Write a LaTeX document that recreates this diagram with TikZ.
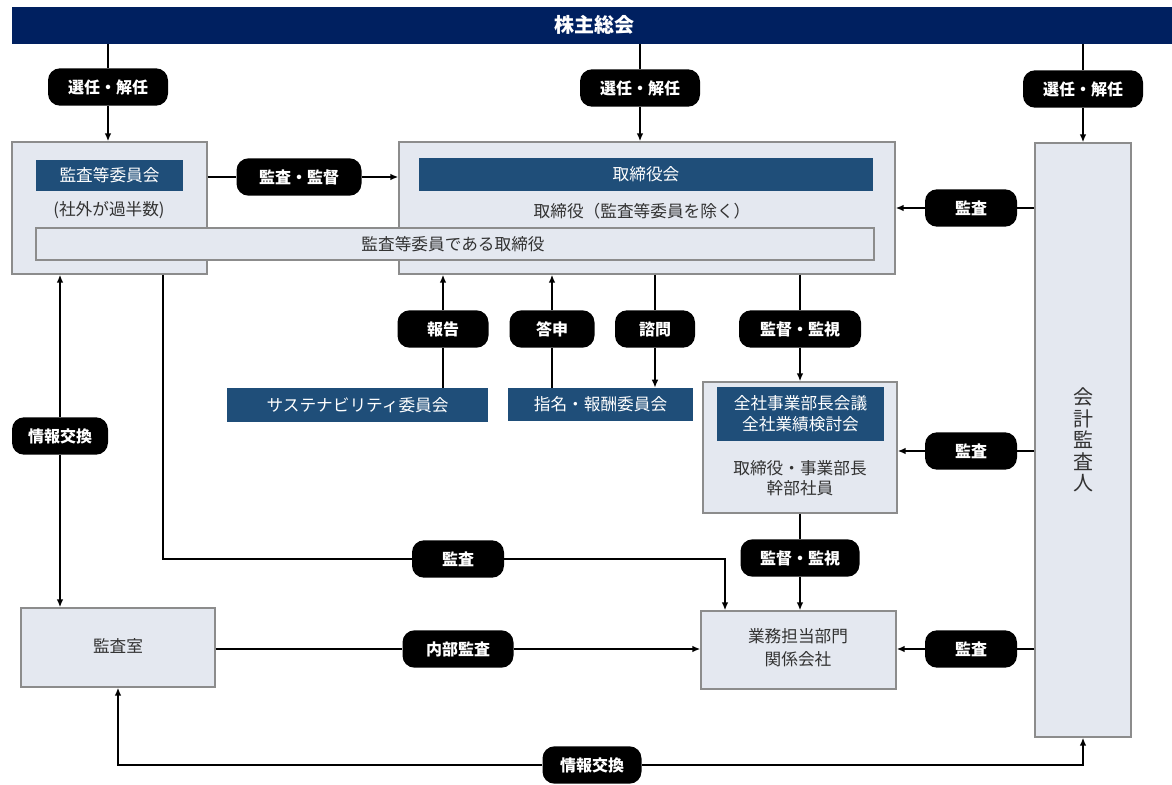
\documentclass[tikz,border=0pt]{standalone}
\usepackage{fontspec}
\setmainfont{Noto Sans CJK JP}
\usetikzlibrary{fit,arrows.meta,calc}
\definecolor{navy}{RGB}{0,32,96}
\definecolor{tblue}{RGB}{31,78,121}
\definecolor{boxfill}{RGB}{228,232,240}
\definecolor{boxline}{RGB}{140,140,140}
\definecolor{txt}{RGB}{50,50,50}
\begin{document}
\begin{tikzpicture}[x=0.75pt,y=-0.75pt,
 box/.style={draw=boxline,fill=boxfill,line width=1pt,inner sep=0pt},
 title/.style={fill=tblue,inner sep=0pt},
 pill/.style={fill=black,text=white,rounded corners=9pt,minimum height=28pt,minimum width=#1*0.75pt,inner sep=0pt,font=\bfseries\fontsize{12}{14}\selectfont},
 lab/.style={text=txt,font=\fontsize{12.5}{15}\selectfont,align=center},
 wlab/.style={text=white,font=\fontsize{12.5}{16}\selectfont,align=center},
 conn/.style={line width=1.4pt,black},
 arr/.style={conn,-{Latex[length=6pt,width=5pt]}},
 darr/.style={conn,{Latex[length=6pt,width=5pt]}-{Latex[length=6pt,width=5pt]}}
]
\useasboundingbox (0,0) rectangle (1172,785);
% top bar
\node[fill=navy,inner sep=0pt,fit={(12,7)(1172,44)}] (bar) {};
\node[text=white,font=\bfseries\fontsize{15}{18}\selectfont] (barT) at (594,25) {株主総会};
% boxes
\node[box,fit={(12,142)(207,274)}] (A) {};
\node[box,fit={(399,142)(895,274)}] (B) {};
\node[box,fit={(1035,143)(1131,737)}] (C) {};
\node[box,fit={(36,228)(874,260)}] (W) {};
\node[title,fit={(36,160)(183,191)}] (At) {};
\node[title,fit={(419,158)(873,191)}] (Bt) {};
\node[title,fit={(227,388)(488,422)}] (S) {};
\node[title,fit={(508,388)(693,421)}] (N) {};
\node[box,fit={(703,382)(897,513)}] (E) {};
\node[title,fit={(717,387)(884,441)}] (Et) {};
\node[box,fit={(701,611)(896,689)}] (F) {};
\node[box,fit={(21,608)(215,687)}] (G) {};
% texts
\node[wlab] (AtT) at (At) {監査等委員会};
\node[wlab] (BtT) at (Bt) {取締役会};
\node[wlab] (ST) at (S) {サステナビリティ委員会};
\node[wlab] (NT) at (N) {指名・報酬委員会};
\node[wlab] (EtT) at (Et) {全社事業部長会議\\全社業績検討会};
\node[lab] (A2) at (109,210) {(社外が過半数)};
\node[lab] (B2) at (642,211) {取締役（監査等委員を除く）};
\node[lab] (WT) at (453,244) {監査等委員である取締役};
\node[lab,font=\fontsize{12.5}{15}\selectfont] (E2) at (800,478) {取締役・事業部長\\幹部社員};
\node[lab,font=\fontsize{12.5}{17}\selectfont] (FT) at (798,648) {業務担当部門\\関係会社};
\node[lab] (GT) at (118,646) {監査室};
\node[lab,font=\fontsize{15}{16.2}\selectfont] (CT) at (1083,440) {会\\計\\監\\査\\人};
% pills
\node[pill=120] (sel1) at (108,87) {選任・解任};
\node[pill=120] (sel2) at (640,88) {選任・解任};
\node[pill=120] (sel3) at (1083,89) {選任・解任};
\node[pill=125] (kk) at (299,177) {監査・監督};
\node[pill=92] (aT) at (971,208) {監査};
\node[pill=92] (aM) at (971,451) {監査};
\node[pill=92] (aB) at (971,649) {監査};
\node[pill=91] (hk) at (443,329) {報告};
\node[pill=85] (ts) at (552,329) {答申};
\node[pill=80] (sm) at (655,329) {諮問};
\node[pill=122] (km1) at (800,329) {監督・監視};
\node[pill=119] (km2) at (800,558) {監督・監視};
\node[pill=92] (aL) at (458,559) {監査};
\node[pill=111] (nb) at (458,649) {内部監査};
\node[pill=96] (jk1) at (60,436) {情報交換};
\node[pill=99] (jk2) at (592,765) {情報交換};
% helper coordinates
\coordinate (xA) at (163,0);
\coordinate (xF) at (725,0);
% connectors
\draw[conn] (bar.south -| sel1) -- (sel1.north);
\draw[arr] (sel1.south) -- (sel1 |- A.north);
\draw[conn] (bar.south -| sel2) -- (sel2.north);
\draw[arr] (sel2.south) -- (sel2 |- B.north);
\draw[conn] (bar.south -| sel3) -- (sel3.north);
\draw[arr] (sel3.south) -- (sel3 |- C.north);
\draw[conn] (A.east |- kk) -- (kk.west);
\draw[arr] (kk.east) -- (kk -| B.west);
\draw[conn] (C.west |- aT) -- (aT.east);
\draw[arr] (aT.west) -- (aT -| B.east);
\draw[conn] (S.north -| hk) -- (hk.south);
\draw[arr] (hk.north) -- (hk |- B.south);
\draw[conn] (N.north -| ts) -- (ts.south);
\draw[arr] (ts.north) -- (ts |- B.south);
\draw[conn] (B.south -| sm) -- (sm.north);
\draw[arr] (sm.south) -- (sm |- N.north);
\draw[conn] (B.south -| km1) -- (km1.north);
\draw[arr] (km1.south) -- (km1 |- E.north);
\draw[conn] (C.west |- aM) -- (aM.east);
\draw[arr] (aM.west) -- (aM -| E.east);
\draw[conn] (E.south -| km2) -- (km2.north);
\draw[arr] (km2.south) -- (km2 |- F.north);
\draw[conn] (C.west |- aB) -- (aB.east);
\draw[arr] (aB.west) -- (aB -| F.east);
\draw[conn] (A.south -| xA) |- (aL.west);
\draw[arr] (aL.east) -| (xF |- F.north);
\draw[conn] (G.east |- nb) -- (nb.west);
\draw[arr] (nb.east) -- (nb -| F.west);
\draw[arr] (jk1.north) -- (jk1 |- A.south);
\draw[arr] (jk1.south) -- (jk1 |- G.north);
\draw[arr] (jk2.west) -| (G.south);
\draw[arr] (jk2.east) -| (C.south);
\end{tikzpicture}
\end{document}
